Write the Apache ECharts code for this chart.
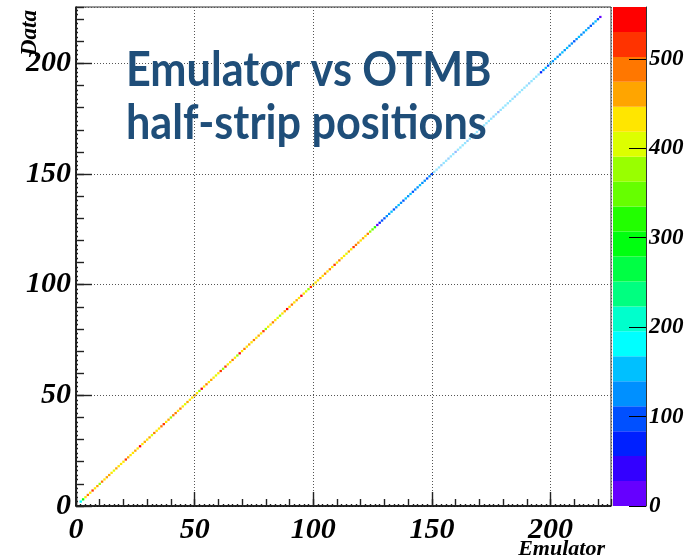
<!DOCTYPE html>
<html>
<head>
<meta charset="utf-8">
<script src="https://cdn.jsdelivr.net/npm/echarts@6/dist/echarts.min.js"></script>
<style>
  html, body { margin: 0; padding: 0; background: #fff; }
  #chart { width: 688px; height: 557px; }
</style>
</head>
<body>
<div id="chart"></div>
<script>
// entries per half-strip bin on the diagonal (emulator == data), bins 2..221
const firstBin = 2;
const counts = [
  185, 300, 420, 480, 440, 520, 430, 470, 370, 475,
  425, 460, 470, 428, 415, 465, 435, 425, 440, 505,
  470, 430, 420, 465, 440, 535, 425, 470, 430, 462,
  415, 480, 425, 440, 475, 520, 430, 470, 365, 480,
  490, 420, 478,
  430, 410, 460, 438, 420, 470, 432, 380, 540, 430,
  478, 425, 470, 440, 415, 445, 530, 385, 520, 430,
  420, 480, 435, 375, 535, 430, 485, 420, 470, 440,
  476, 425, 468, 430, 512, 372, 440, 420, 490, 430,
  410, 370, 440, 470, 540,
  425, 478, 430, 465, 420, 538, 435, 410, 370, 510,
  440, 430, 420, 470, 440, 485, 430, 475, 425, 530,
  440, 480, 420, 432, 415, 470, 440, 520, 478, 465,
  440, 470, 430, 475, 375, 340, 330,
  20, 75, 100, 90, 130, 125, 145, 100, 130, 150,
  128, 95, 140, 130, 150, 92, 135, 125, 148, 130,
  120, 88, 135, 95,
  150, 140, 155, 130, 145, 150, 135, 155, 148, 100,
  150, 140, 152, 145, 130, 155, 148, 140, 150, 135,
  155, 145, 150, 140, 152, 130, 145, 95, 150, 142,
  155, 140, 148, 150, 135, 152, 145, 140, 150, 148,
  132, 155, 145, 140, 150,
  75, 130, 145, 90, 140, 128, 150, 135, 125, 148,
  130, 140, 120, 135, 85, 130, 145, 125, 138, 150,
  128, 100, 135, 140, 110, 20
];
// these bins look washed out in the original picture
const faintFrom = 151;
const faintTo = 195;

const axisMax = 225.5;
const zMax = 558;
// ROOT "pretty" palette, 20 contour levels, bottom to top
const palette = [
  "#6600ff", "#3300ff", "#0020ff", "#0050ff", "#0090ff",
  "#00c0ff", "#00ffff", "#00ffcc", "#00ff80", "#00ff44",
  "#00ff10", "#22ff00", "#66ff00", "#99ff00", "#ddff00",
  "#ffe600", "#ffa500", "#ff7700", "#ff3300", "#ff0000"
];

const step = zMax / palette.length;
const mainCells = [];
const faintCells = [];
counts.forEach((c, i) => {
  const b = firstBin + i;
  if (b >= faintFrom && b <= faintTo) faintCells.push([b, b, c]);
  else mainCells.push([b, b, c]);
});

const rootFont = {
  fontFamily: "Liberation Serif",
  fontStyle: "italic",
  fontWeight: "bold",
  color: "#000"
};

function cellRenderer(alpha) {
  return function (params, api) {
    const x = api.value(0), y = api.value(1);
    const lo = api.coord([x - 0.5, y - 0.5]);
    const hi = api.coord([x + 0.5, y + 0.5]);
    return {
      type: "rect",
      shape: { x: lo[0], y: hi[1], width: hi[0] - lo[0], height: lo[1] - hi[1] },
      style: { fill: api.visual("color"), opacity: alpha }
    };
  };
}

const tickStyle = { color: "#222", width: 1.4 };

const chart = echarts.init(document.getElementById("chart"));

const option = {
  animation: false,
  backgroundColor: "#fff",
  grid: [
    { left: 76, top: 7, width: 535, height: 499, show: true, borderColor: "#333", borderWidth: 1,
      outerBoundsMode: "none" },
    { left: 613, top: 7, width: 33, height: 499, outerBoundsMode: "none" }
  ],
  xAxis: [
    {
      gridIndex: 0, type: "value", min: 0, max: axisMax, interval: 50, z: 10,
      axisLine: { show: true, onZero: false, lineStyle: { color: "#000", width: 1.5 } },
      axisTick: { show: true, inside: true, length: 14, lineStyle: tickStyle },
      axisLabel: Object.assign({}, rootFont, { fontSize: 30, margin: 9, showMaxLabel: false }),
      splitLine: { show: true, lineStyle: { color: "#555", width: 1, type: [1, 2] } }
    },
    {
      gridIndex: 0, type: "value", min: 0, max: axisMax, interval: 10, position: "bottom", z: 10,
      axisLine: { show: false, onZero: false },
      axisTick: { show: true, inside: true, length: 7, lineStyle: tickStyle },
      minorTick: { show: true, splitNumber: 5, length: 2, lineStyle: tickStyle },
      axisLabel: { show: false },
      splitLine: { show: false }
    },
    { gridIndex: 1, type: "value", min: 0, max: 1, show: false }
  ],
  yAxis: [
    {
      gridIndex: 0, type: "value", min: 0, max: axisMax, interval: 50, z: 10,
      axisLine: { show: true, onZero: false, lineStyle: { color: "#000", width: 1.5 } },
      axisTick: { show: true, inside: true, length: 16, lineStyle: tickStyle },
      axisLabel: Object.assign({}, rootFont, { fontSize: 30, margin: 5, showMaxLabel: false }),
      splitLine: { show: true, lineStyle: { color: "#555", width: 1, type: [1, 2] } }
    },
    {
      gridIndex: 0, type: "value", min: 0, max: axisMax, interval: 10, position: "left", z: 10,
      axisLine: { show: false, onZero: false },
      axisTick: { show: true, inside: true, length: 8, lineStyle: tickStyle },
      minorTick: { show: true, splitNumber: 5, length: 2, lineStyle: tickStyle },
      axisLabel: { show: false },
      splitLine: { show: false }
    },
    {
      gridIndex: 1, type: "value", min: 0, max: zMax, interval: 100, position: "right", z: 10,
      axisLine: { show: true, onZero: false, lineStyle: { color: "#333", width: 1 } },
      axisTick: { show: true, inside: true, length: 17, lineStyle: { color: "#000", width: 1 } },
      axisLabel: Object.assign({}, rootFont, { fontSize: 23, margin: 3, showMaxLabel: false }),
      splitLine: { show: false }
    }
  ],
  visualMap: {
    type: "piecewise", show: false, dimension: 2, seriesIndex: [0, 1],
    pieces: palette.map((color, i) => ({ gte: i * step, lt: (i + 1) * step, color: color }))
  },
  series: [
    {
      type: "custom", xAxisIndex: 0, yAxisIndex: 0,
      encode: { x: 0, y: 1 },
      renderItem: cellRenderer(1),
      data: mainCells, z: 5
    },
    {
      type: "custom", xAxisIndex: 0, yAxisIndex: 0,
      encode: { x: 0, y: 1 },
      renderItem: cellRenderer(0.42),
      data: faintCells, z: 5
    },
    {
      // colour bar
      type: "custom", xAxisIndex: 2, yAxisIndex: 2,
      encode: { x: 0, y: [1, 2] },
      renderItem: function (params, api) {
        const lo = api.coord([0, api.value(1)]);
        const hi = api.coord([1, api.value(2)]);
        return {
          type: "rect",
          shape: { x: lo[0], y: hi[1], width: hi[0] - lo[0], height: lo[1] - hi[1] },
          style: { fill: palette[params.dataIndex] }
        };
      },
      data: palette.map((_, i) => [0, i * step, (i + 1) * step]),
      z: 1
    }
  ],
  graphic: [
    {
      type: "text", x: 126, y: 71, scaleX: 0.9, z: 100,
      style: { text: "Emulator vs OTMB", font: "bold 48px Lato", fill: "#1f4e79", align: "left", verticalAlign: "middle" }
    },
    {
      type: "text", x: 126, y: 124, scaleX: 0.9, z: 100,
      style: { text: "half-strip positions", font: "bold 48px Lato", fill: "#1f4e79", align: "left", verticalAlign: "middle" }
    },
    {
      // axis titles, placed the way ROOT does (right/top aligned)
      type: "text", x: 605, y: 549, z: 100,
      style: { text: "Emulator", font: "italic bold 22px 'Liberation Serif'", fill: "#000", align: "right", verticalAlign: "middle" }
    },
    {
      type: "text", x: 30, y: 10, rotation: Math.PI / 2, z: 100,
      style: { text: "Data", font: "italic bold 23px 'Liberation Serif'", fill: "#000", align: "right", verticalAlign: "middle" }
    }
  ]
};

chart.setOption(option);
</script>
</body>
</html>
